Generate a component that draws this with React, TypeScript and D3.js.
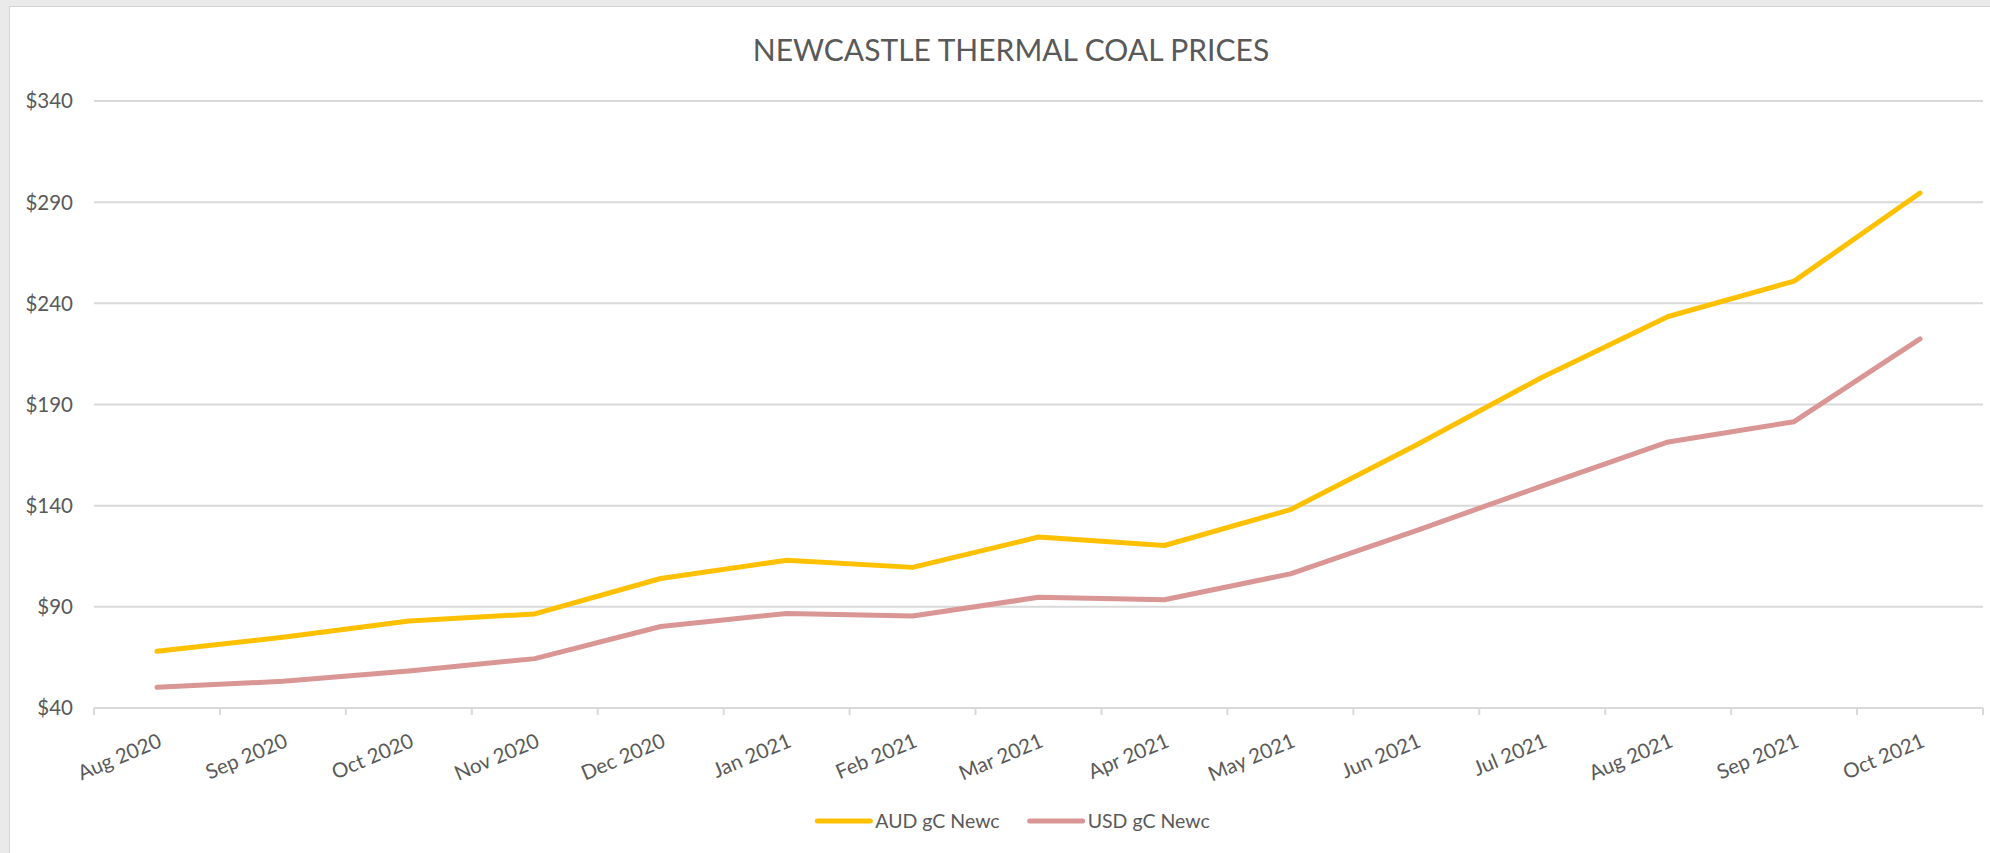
import React, { useEffect, useRef } from "react";
import * as d3 from "d3";

const categories = [
  "Aug 2020", "Sep 2020", "Oct 2020", "Nov 2020", "Dec 2020",
  "Jan 2021", "Feb 2021", "Mar 2021", "Apr 2021", "May 2021",
  "Jun 2021", "Jul 2021", "Aug 2021", "Sep 2021", "Oct 2021",
];
const audValues = [68, 75, 83, 86.5, 104, 113, 109.5, 124.5, 120.3, 138, 170, 203.5, 233.5, 251, 294.5];
const usdValues = [50.2, 53.2, 58.3, 64.4, 80.3, 86.7, 85.5, 94.7, 93.5, 106.3, 127.7, 149.8, 171.5, 181.5, 222.4];
const yTicks = [40, 90, 140, 190, 240, 290, 340];
const seriesNames = ["AUD gC Newc", "USD gC Newc"];
const seriesColors = ["#FFC000", "#D99694"];
const title = "NEWCASTLE THERMAL COAL PRICES";

export default function App() {
  const ref = useRef<SVGSVGElement | null>(null);

  useEffect(() => {
    const svg = d3.select(ref.current);
    svg.selectAll("*").remove();
    const W = 1990, H = 853;
    const left = 94, right = 1983, top = 101, bottom = 708;
    const font = "Lato, 'Open Sans', sans-serif";
    const textColor = "#595959";
    const gridColor = "#D9D9D9";

    svg.append("rect").attr("x", 0).attr("y", 0).attr("width", W).attr("height", H).attr("fill", "#EAEAEA");
    svg.append("rect").attr("x", 9.5).attr("y", 6.5).attr("width", W).attr("height", H)
      .attr("fill", "#FFFFFF").attr("stroke", "#D4D4D4").attr("stroke-width", 1);

    const x = d3.scaleBand<string>().domain(categories).range([left, right]);
    const y = d3.scaleLinear().domain([40, 340]).range([bottom, top]);

    // title
    svg.append("text").attr("x", 1011).attr("y", 61).attr("text-anchor", "middle")
      .attr("font-family", font).attr("font-size", 30).attr("fill", textColor).text(title);

    // gridlines
    svg.append("g").selectAll("line").data(yTicks.filter((t) => t !== 40)).join("line")
      .attr("x1", left).attr("x2", right)
      .attr("y1", (d) => y(d)).attr("y2", (d) => y(d))
      .attr("stroke", gridColor).attr("stroke-width", 2);

    // y labels
    svg.append("g").selectAll("text").data(yTicks).join("text")
      .attr("x", 73).attr("y", (d) => y(d)).attr("dy", "0.36em").attr("text-anchor", "end")
      .attr("font-family", font).attr("font-size", 20.5).attr("fill", textColor)
      .text((d) => "$" + d3.format("d")(d));

    // x axis line + ticks
    svg.append("line").attr("x1", left).attr("x2", right).attr("y1", bottom).attr("y2", bottom)
      .attr("stroke", gridColor).attr("stroke-width", 2);
    const tickPos = categories.map((c) => x(c) as number).concat([right]);
    svg.append("g").selectAll("line").data(tickPos).join("line")
      .attr("x1", (d) => d).attr("x2", (d) => d).attr("y1", bottom).attr("y2", bottom + 7)
      .attr("stroke", gridColor).attr("stroke-width", 2);

    // x labels
    svg.append("g").selectAll("text").data(categories).join("text")
      .attr("transform", (d) => `translate(${(x(d) as number) + x.bandwidth() / 2 + 6},${746}) rotate(-23)`)
      .attr("text-anchor", "end")
      .attr("font-family", font).attr("font-size", 20.5).attr("fill", textColor)
      .text((d) => d);

    // lines
    const line = d3.line<number>()
      .x((_, i) => (x(categories[i]) as number) + x.bandwidth() / 2)
      .y((d) => y(d));
    [audValues, usdValues].forEach((vals, i) => {
      svg.append("path").attr("d", line(vals) as string).attr("fill", "none")
        .attr("stroke", seriesColors[i]).attr("stroke-width", 5)
        .attr("stroke-linecap", "round").attr("stroke-linejoin", "round");
    });

    // legend
    const lg = svg.append("g");
    const lineLen = 53, gapText = 5, gapItem = 30, ly = 821;
    const items = seriesNames.map((name, i) => {
      const g = lg.append("g");
      g.append("line").attr("x1", 0).attr("x2", lineLen).attr("y1", ly).attr("y2", ly)
        .attr("stroke", seriesColors[i]).attr("stroke-width", 5).attr("stroke-linecap", "round");
      const t = g.append("text").attr("x", lineLen + gapText).attr("y", ly).attr("dy", "0.36em")
        .attr("font-family", font).attr("font-size", 19.5).attr("fill", textColor).text(name);
      const w = (t.node() as SVGTextElement).getComputedTextLength();
      return { g, width: lineLen + gapText + w };
    });
    const total = items.reduce((s, it) => s + it.width, 0) + gapItem * (items.length - 1);
    let cx = 1013.5 - total / 2;
    items.forEach((it) => {
      it.g.attr("transform", `translate(${cx},0)`);
      cx += it.width + gapItem;
    });
  }, []);

  return (
    <svg ref={ref} width={1990} height={853}
      style={{ position: "absolute", left: 0, top: 0, display: "block" }} />
  );
}
